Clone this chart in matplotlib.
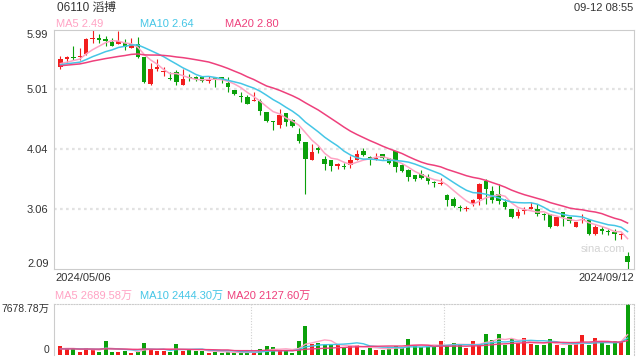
import matplotlib.pyplot as plt
import numpy as np
import pandas as pd

# Шрифты: латиница + CJK для названия и "万"
plt.rcParams['font.family'] = ['Liberation Sans', 'Noto Sans CJK SC']

# ---- данные ----
stock_name = '06110 滔搏'
update_time = '09-12 08:55'
start_date = '2024/05/06'
end_date = '2024/09/12'

opens = [5.33, 5.47, 5.50, 5.50, 5.55, 5.79, 5.80, 5.79, 5.74, 5.71,
         5.72, 5.65, 5.71, 5.49, 5.07, 5.31, 5.25, 5.16, 5.26, 5.05,
         5.18, 5.17, 5.17, 5.12, 5.15, 5.18, 5.08, 4.97, 4.86, 4.85,
         4.79, 4.79, 4.62, 4.47, 4.41, 4.60, 4.48, 4.26, 4.13, 3.84,
         4.03, 3.86, 3.84, 3.75, 3.75, 3.76, 3.84, 3.99, 3.89, 3.86,
         3.94, 3.88, 3.99, 3.76, 3.68, 3.60, 3.62, 3.57, 3.49, 3.46,
         3.28, 3.22, 3.09, 3.06, 3.13, 3.21, 3.51, 3.35, 3.30, 3.17,
         3.05, 2.94, 3.02, 3.06, 3.06, 2.97, 2.97, 2.78, 3.00, 2.92,
         2.77, 2.88, 2.88, 2.66, 2.74, 2.69, 2.69, 2.64, 2.30]
highs = [5.52, 5.52, 5.68, 5.64, 5.81, 5.94, 5.86, 5.83, 5.80, 5.91,
         5.78, 5.81, 5.82, 5.49, 5.40, 5.46, 5.33, 5.26, 5.29, 5.31,
         5.23, 5.20, 5.19, 5.19, 5.17, 5.18, 5.18, 4.97, 4.93, 4.88,
         4.94, 4.82, 4.62, 4.47, 4.67, 4.60, 4.50, 4.36, 4.13, 4.10,
         4.06, 3.90, 3.84, 3.80, 3.79, 3.90, 4.00, 4.03, 3.90, 3.95,
         3.94, 3.88, 3.99, 3.77, 3.70, 3.60, 3.68, 3.61, 3.51, 3.55,
         3.30, 3.24, 3.12, 3.11, 3.22, 3.48, 3.53, 3.42, 3.46, 3.22,
         3.06, 3.05, 3.08, 3.16, 3.13, 2.99, 2.97, 2.95, 3.00, 2.92,
         2.85, 2.97, 2.88, 2.79, 2.78, 2.73, 2.73, 2.67, 2.37]
lows = [5.31, 5.40, 5.45, 5.45, 5.53, 5.72, 5.72, 5.68, 5.67, 5.71,
        5.61, 5.65, 5.48, 5.08, 5.05, 5.27, 5.19, 5.13, 5.05, 5.05,
        5.12, 5.11, 5.10, 5.08, 5.02, 5.08, 4.93, 4.88, 4.77, 4.74,
        4.79, 4.57, 4.46, 4.33, 4.35, 4.39, 4.38, 4.11, 3.30, 3.84,
        3.95, 3.68, 3.67, 3.70, 3.70, 3.72, 3.84, 3.90, 3.76, 3.84,
        3.86, 3.78, 3.65, 3.65, 3.51, 3.50, 3.54, 3.46, 3.41, 3.44,
        3.11, 3.08, 3.03, 3.03, 3.10, 3.12, 3.13, 3.15, 3.13, 3.06,
        2.91, 2.91, 2.98, 3.05, 2.95, 2.88, 2.75, 2.78, 2.78, 2.83,
        2.77, 2.83, 2.63, 2.64, 2.66, 2.63, 2.56, 2.58, 2.09]
closes = [5.47, 5.49, 5.48, 5.52, 5.78, 5.81, 5.77, 5.76, 5.68, 5.75,
          5.66, 5.70, 5.49, 5.09, 5.31, 5.33, 5.27, 5.15, 5.10, 5.14,
          5.16, 5.14, 5.12, 5.14, 5.14, 5.13, 5.01, 4.90, 4.85, 4.75,
          4.80, 4.63, 4.47, 4.45, 4.57, 4.46, 4.39, 4.14, 3.86, 3.97,
          4.01, 3.77, 3.75, 3.77, 3.73, 3.84, 3.94, 3.92, 3.88, 3.87,
          3.87, 3.79, 3.73, 3.67, 3.57, 3.53, 3.55, 3.50, 3.48, 3.47,
          3.20, 3.11, 3.07, 3.07, 3.20, 3.46, 3.37, 3.20, 3.19, 3.08,
          2.92, 3.01, 3.03, 3.09, 2.97, 2.96, 2.77, 2.92, 2.92, 2.86,
          2.85, 2.89, 2.65, 2.77, 2.70, 2.68, 2.65, 2.65, 2.21]
# объём, 万股
volumes = [1355, 860, 860, 500, 1000, 860, 500, 2150, 500, 500,
           650, 350, 500, 1850, 860, 650, 650, 500, 1650, 650,
           750, 650, 650, 350, 500, 350, 500, 250, 350, 500,
           350, 860, 1355, 1150, 650, 650, 350, 2100, 4370, 1650,
           1750, 1500, 1500, 1500, 1110, 1360, 1460, 760, 1110, 760,
           760, 1260, 1360, 1010, 2420, 1360, 1160, 1360, 1260, 2120,
           1360, 1820, 1515, 1110, 2120, 1515, 3180, 2270, 3180, 1515,
           2370, 1770, 2520, 1670, 1515, 1515, 2370, 1515, 1110, 1515,
           1670, 3030, 1515, 2520, 1870, 1515, 2120, 2120, 7678.78]

# данные до начала окна (нужны только для скользящих средних)
prev_closes = [5.30, 5.28, 5.33, 5.35, 5.31, 5.38, 5.36, 5.34, 5.40, 5.37,
               5.33, 5.35, 5.39, 5.36, 5.34, 5.38, 5.35, 5.40, 5.36]
prev_volumes = [900, 700, 1100, 800, 950, 650, 1200, 850, 700, 900,
                1000, 750, 800, 1300, 900, 650, 850, 1000, 900]

price_labels = ['5.99', '5.01', '4.04', '3.06', '2.09']
price_ma_text = ['MA5 2.49', 'MA10 2.64', 'MA20 2.80']
volume_ma_text = ['MA5 2689.58万', 'MA10 2444.30万', 'MA20 2127.60万']
volume_top_text = '7678.78万'

# ---- стиль ----
UP = '#f21d1d'
DOWN = '#0aa00a'
MA_COLORS = ['#ffa3c4', '#45c6e6', '#ee407c']
MA_PERIODS = [5, 10, 20]
TEXT = '#333333'
BORDER = '#cccccc'
GRID = '#e2e2e2'
FS = 8


def moving_average(prev, values, period):
    s = pd.Series(list(prev) + list(values), dtype=float)
    return s.rolling(period).mean().iloc[len(prev):].to_numpy()


fig = plt.figure(figsize=(6.4, 3.6), dpi=100)
W, H = 640, 360
ax = fig.add_axes([54 / W, 1 - 269 / H, 580 / W, 239.5 / H])
axv = fig.add_axes([54 / W, 1 - 355 / H, 580 / W, 51 / H])

n = len(closes)
x = np.arange(n)
o = np.array(opens)
c = np.array(closes)
colors = [UP if cc >= oo else DOWN for oo, cc in zip(o, c)]

# свечи
ax.vlines(x, lows, highs, colors=colors, lw=0.8, zorder=2)
body_low = np.minimum(o, c)
body_h = np.maximum(np.abs(c - o), 0.014)
ax.bar(x, body_h, bottom=body_low, width=0.68, color=colors, linewidth=0, zorder=3)

# скользящие средние цены
for p, col in zip(MA_PERIODS, MA_COLORS):
    ax.plot(x, moving_average(prev_closes, closes, p), color=col, lw=1.1, zorder=4)

lo, hi = min(lows), max(highs)
ax.set_xlim(-1, n)
ax.set_ylim(lo, hi)
ticks = np.linspace(hi, lo, 5)
for t in ticks[1:-1]:
    ax.axhline(t, color=GRID, lw=1.6, ls=(0, (1.2, 1.5)), zorder=1)
ax.set_yticks(ticks)
ax.set_yticklabels(price_labels, fontsize=FS, color=TEXT)
ax.get_yticklabels()[0].set_va('top')
ax.get_yticklabels()[-1].set_va('bottom')
ax.tick_params(axis='y', length=0, pad=4)
ax.set_xticks([])
for s in ax.spines.values():
    s.set_color(BORDER)
    s.set_linewidth(0.8)
ax.text(0.985, 0.085, 'sina.com', transform=ax.transAxes, ha='right', va='center',
        fontsize=FS, color='#d3d3d3')

# объём
axv.bar(x, volumes, width=0.62, color=colors, linewidth=0, zorder=2)
for p, col in zip(MA_PERIODS, MA_COLORS):
    axv.plot(x, moving_average(prev_volumes, volumes, p), color=col, lw=1.0, zorder=3)
axv.set_xlim(-1, n)
axv.set_ylim(0, max(volumes))
axv.set_yticks([max(volumes), 0])
axv.set_yticklabels([volume_top_text, '0'], fontsize=7.5, color=TEXT)
axv.get_yticklabels()[0].set_va('top')
axv.get_yticklabels()[-1].set_va('bottom')
axv.tick_params(axis='y', length=0, pad=3)
axv.set_xticks([])
for xv in (29.5, 59.5):
    axv.axvline(xv, color='#d0d0d0', lw=0.8, ls=(0, (1, 1.5)), zorder=1)
for name, s in axv.spines.items():
    s.set_color(BORDER)
    s.set_linewidth(0.8)
    if name in ('top', 'right'):
        s.set_linestyle((0, (1, 1.5)))
axv.spines['bottom'].set_visible(False)

# подписи вокруг графика
fig.text(57 / W, 1 - 8 / H, stock_name, fontsize=FS + 0.5, color=TEXT, va='center')
fig.text(633 / W, 1 - 8 / H, update_time, fontsize=FS, color=TEXT, va='center', ha='right')
for txt, xp, col in zip(price_ma_text, (56, 140, 225), MA_COLORS):
    fig.text(xp / W, 1 - 24 / H, txt, fontsize=FS, color=col, va='center')
for txt, xp, col in zip(volume_ma_text, (55, 140, 227), MA_COLORS):
    fig.text(xp / W, 1 - 296 / H, txt, fontsize=FS, color=col, va='center')
fig.text(55 / W, 1 - 278 / H, start_date, fontsize=FS, color=TEXT, va='center')
fig.text(634 / W, 1 - 278 / H, end_date, fontsize=FS, color=TEXT, va='center', ha='right')

fig.savefig('out.png', dpi=100, facecolor='white')
